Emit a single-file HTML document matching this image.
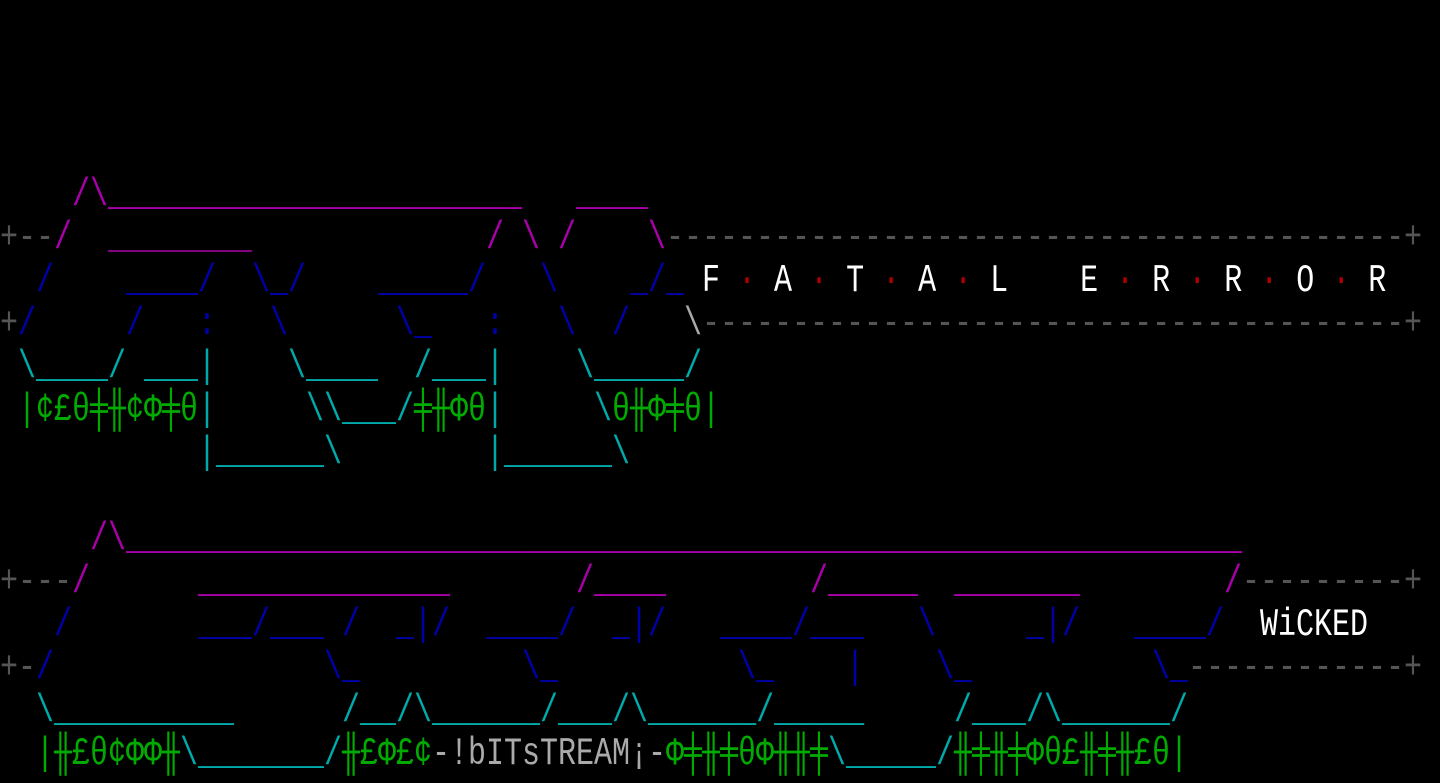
<!DOCTYPE html>
<html><head><meta charset="utf-8"><style>
html,body{margin:0;padding:0;background:#000;}
body{width:1440px;height:776px;position:relative;overflow:hidden;}
span.s{position:absolute;display:inline-block;height:43px;line-height:43px;margin-top:3px;font-family:"Liberation Mono","DejaVu Sans Mono",monospace;font-size:30px;white-space:pre;transform:scaleY(1.3);transform-origin:50% 50%;}
.m{color:#aa00aa}.md{color:#8a008a}.b{color:#0000aa}.c{color:#00aaaa}.gr{color:#00aa00}.g{color:#555}.lg{color:#aaa}.w{color:#fff}.r{color:#aa0000}
</style></head><body>
<span class="s m" style="top:172px;left:72px">/\</span>
<span class="s m" style="top:172px;left:108px">_______________________</span>
<span class="s m" style="top:172px;left:576px">____</span>
<span class="s g" style="top:215px;left:0px">+--</span>
<span class="s m" style="top:215px;left:54px">/</span>
<span class="s md" style="top:215px;left:108px">________</span>
<span class="s m" style="top:215px;left:486px">/</span>
<span class="s m" style="top:215px;left:522px">\</span>
<span class="s m" style="top:215px;left:558px">/</span>
<span class="s m" style="top:215px;left:648px">\</span>
<span class="s g" style="top:215px;left:666px">-----------------------------------------</span>
<span class="s g" style="top:215px;left:1404px">+</span>
<span class="s b" style="top:258px;left:36px">/</span>
<span class="s b" style="top:258px;left:126px">____/</span>
<span class="s b" style="top:258px;left:252px">\_/</span>
<span class="s b" style="top:258px;left:378px">_____/</span>
<span class="s b" style="top:258px;left:540px">\</span>
<span class="s b" style="top:258px;left:630px">_/_</span>
<span class="s w" style="top:258px;left:702px">F <span class="r">·</span> A <span class="r">·</span> T <span class="r">·</span> A <span class="r">·</span> L    E <span class="r">·</span> R <span class="r">·</span> R <span class="r">·</span> O <span class="r">·</span> R</span>
<span class="s g" style="top:301px;left:0px">+</span>
<span class="s b" style="top:301px;left:18px">/</span>
<span class="s b" style="top:301px;left:126px">/</span>
<span class="s b" style="top:301px;left:198px">:</span>
<span class="s b" style="top:301px;left:270px">\</span>
<span class="s b" style="top:301px;left:396px">\_</span>
<span class="s b" style="top:301px;left:486px">:</span>
<span class="s b" style="top:301px;left:558px">\</span>
<span class="s b" style="top:301px;left:612px">/</span>
<span class="s lg" style="top:301px;left:684px">\</span>
<span class="s g" style="top:301px;left:702px">---------------------------------------</span>
<span class="s g" style="top:301px;left:1404px">+</span>
<span class="s c" style="top:344px;left:18px">\____/</span>
<span class="s c" style="top:344px;left:144px">___|</span>
<span class="s c" style="top:344px;left:288px">\____</span>
<span class="s c" style="top:344px;left:414px">/___|</span>
<span class="s c" style="top:344px;left:576px">\_____/</span>
<span class="s gr" style="top:387px;left:18px">|¢£θ╪╫¢Φ╪θ</span>
<span class="s c" style="top:387px;left:198px">|</span>
<span class="s c" style="top:387px;left:306px">\\___/</span>
<span class="s gr" style="top:387px;left:414px">╪╫Φθ</span>
<span class="s c" style="top:387px;left:486px">|</span>
<span class="s c" style="top:387px;left:594px">\</span>
<span class="s gr" style="top:387px;left:612px">θ╫Φ╪θ|</span>
<span class="s c" style="top:430px;left:198px">|______\</span>
<span class="s c" style="top:430px;left:486px">|______\</span>
<span class="s m" style="top:516px;left:90px">/\</span>
<span class="s m" style="top:516px;left:126px">______________________________________________________________</span>
<span class="s g" style="top:559px;left:0px">+---</span>
<span class="s m" style="top:559px;left:72px">/</span>
<span class="s m" style="top:559px;left:198px">______________</span>
<span class="s m" style="top:559px;left:576px">/____</span>
<span class="s m" style="top:559px;left:810px">/_____</span>
<span class="s m" style="top:559px;left:954px">_______</span>
<span class="s m" style="top:559px;left:1224px">/</span>
<span class="s g" style="top:559px;left:1242px">---------</span>
<span class="s g" style="top:559px;left:1404px">+</span>
<span class="s b" style="top:602px;left:54px">/</span>
<span class="s b" style="top:602px;left:198px">___/___</span>
<span class="s b" style="top:602px;left:342px">/</span>
<span class="s b" style="top:602px;left:396px">_|/</span>
<span class="s b" style="top:602px;left:486px">____/</span>
<span class="s b" style="top:602px;left:612px">_|/</span>
<span class="s b" style="top:602px;left:720px">____/___</span>
<span class="s b" style="top:602px;left:918px">\</span>
<span class="s b" style="top:602px;left:1026px">_|/</span>
<span class="s b" style="top:602px;left:1134px">____/</span>
<span class="s w" style="top:602px;left:1260px">WiCKED</span>
<span class="s g" style="top:645px;left:0px">+-</span>
<span class="s b" style="top:645px;left:36px">/</span>
<span class="s b" style="top:645px;left:324px">\_</span>
<span class="s b" style="top:645px;left:522px">\_</span>
<span class="s b" style="top:645px;left:738px">\_</span>
<span class="s b" style="top:645px;left:846px">|</span>
<span class="s b" style="top:645px;left:936px">\_</span>
<span class="s b" style="top:645px;left:1152px">\_</span>
<span class="s g" style="top:645px;left:1188px">------------</span>
<span class="s g" style="top:645px;left:1404px">+</span>
<span class="s c" style="top:688px;left:36px">\__________</span>
<span class="s c" style="top:688px;left:342px">/__/\______/___/\______/_____</span>
<span class="s c" style="top:688px;left:954px">/___/\______/</span>
<span class="s gr" style="top:731px;left:36px">|╫£θ¢ΦΦ╫</span>
<span class="s c" style="top:731px;left:180px">\_______/</span>
<span class="s gr" style="top:731px;left:342px">╫£Φ£¢</span>
<span class="s lg" style="top:731px;left:432px">-!bITsTREAM¡-</span>
<span class="s gr" style="top:731px;left:666px">Φ╪╫╪θΦ╫╫╪</span>
<span class="s c" style="top:731px;left:828px">\_____/</span>
<span class="s gr" style="top:731px;left:954px">╫╪╫╪Φθ£╫╪╫£θ|</span>
</body></html>
